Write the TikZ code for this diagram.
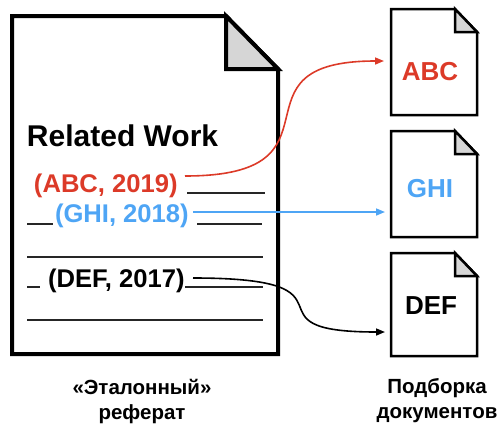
\documentclass[tikz,border=0pt]{standalone}
\usepackage{fontspec}
\setmainfont{Liberation Sans}
\usetikzlibrary{arrows.meta,calc}
\definecolor{citered}{RGB}{220,58,40}
\definecolor{citeblue}{RGB}{78,165,245}
\definecolor{foldgray}{RGB}{214,214,214}
\begin{document}
\begin{tikzpicture}[x=1pt,y=-1pt,
  every node/.style={inner sep=0pt,outer sep=0pt},
  sheet/.style={minimum width=#1,outer sep=0pt},
  heading/.style={font=\fontsize{30}{32}\selectfont\bfseries},
  cite/.style={font=\fontsize{25.6}{28}\selectfont\bfseries,anchor=base west},
  doclabel/.style={font=\fontsize{26}{28}\selectfont\bfseries},
  caption/.style={font=\fontsize{20.5}{25}\selectfont\bfseries,align=center},
  textrule/.style={line width=1.6pt,draw=black!85},
  link/.style={line width=1.6pt,-{Triangle[length=9pt,width=7pt]}}]
\useasboundingbox (0,0) rectangle (504,429);

% reference abstract page
\node[sheet=266pt,minimum height=338pt] (paper) at (145,185) {};
\draw[line width=4pt]
  (paper.north west) -- ([xshift=-52pt]paper.north east)
  -- ([yshift=-53pt]paper.north east) -- (paper.south east)
  -- (paper.south west) -- cycle;
\filldraw[fill=foldgray,line width=4pt]
  ([xshift=-52pt]paper.north east) -- ([xshift=-52pt,yshift=-53pt]paper.north east)
  -- ([yshift=-53pt]paper.north east) -- cycle;

% retrieved documents
\node[sheet=86pt,minimum height=106pt] (docA) at (434,62) {};
\node[sheet=86pt,minimum height=106pt] (docB) at (434,184) {};
\node[sheet=86pt,minimum height=103pt] (docC) at (434,304.5) {};
\foreach \d in {docA,docB,docC}{
  \draw[line width=2.5pt]
    (\d.north west) -- ([xshift=-22pt]\d.north east)
    -- ([yshift=-23pt]\d.north east) -- (\d.south east)
    -- (\d.south west) -- cycle;
  \filldraw[fill=foldgray,line width=2.5pt]
    ([xshift=-22pt]\d.north east) -- ([xshift=-22pt,yshift=-23pt]\d.north east)
    -- ([yshift=-23pt]\d.north east) -- cycle;
}
\node[doclabel,text=citered] (labA) at (430,72) {ABC};
\node[doclabel,text=citeblue] (labB) at (430,189) {GHI};
\node[doclabel] (labC) at (431,306) {DEF};

% page text
\node[heading,anchor=base west] (title) at (27,146) {Related Work};
\node[cite,text=citered] (abc) at (34,192) {(ABC, 2019)};
\node[cite,text=citeblue] (ghi) at (55,222) {(GHI, 2018)};
\node[cite] (def) at (48,287) {(DEF, 2017)};

\draw[textrule] (187,193) -- (265,193);
\draw[textrule] (27,224) -- (53,224);
\draw[textrule] (197,224) -- (262,224);
\draw[textrule] (27,257) -- (263,257);
\draw[textrule] (27,287) -- (40,287);
\draw[textrule] (185,287) -- (263,287);
\draw[textrule] (27,320) -- (263,320);

% citation links
\coordinate (abcout) at (185,176);
\coordinate (ghiout) at (193,212);
\coordinate (defout) at (193,278);
\draw[link,draw=citered,-{Triangle[length=9pt,width=7pt,fill=citered]}]
  (abcout) .. controls (355,176) and (221,61) .. ($(docA.west)+(-7,-1)$);
\draw[link,draw=citeblue,-{Triangle[length=9pt,width=7pt,fill=citeblue]}]
  (ghiout) -- ($(docB.west)+(-6,28)$);
\draw[link] (defout) .. controls (373,278) and (235,332) .. ($(docC.west)+(-6,27.5)$);

% captions
\node[caption] (capL) at (142,401) {«Эталонный»\\реферат};
\node[caption] (capR) at (437,401) {Подборка\\документов};
\end{tikzpicture}
\end{document}
